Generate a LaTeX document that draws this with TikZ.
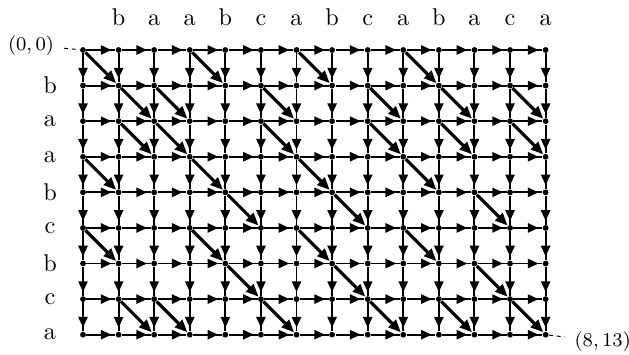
\documentclass[tikz,border=0pt]{standalone}
\usetikzlibrary{arrows.meta,positioning,decorations.markings}
\def\gs{0.516}
\def\wEdge{0.8pt}
\def\wMatch{1.3pt}
\tikzset{
  dot/.style={circle, fill=black, inner sep=0pt, minimum size=2.4pt},
  lbl/.style={font=\normalsize, inner sep=1pt},
  collbl/.style={lbl, anchor=base},
  endlbl/.style={font=\footnotesize, inner sep=1pt},
  move/.style={line width=\wEdge, postaction={decorate},
    decoration={markings, mark=at position 0.5 with
      {\pgftransformxshift{4.4pt}\arrow{Triangle[length=4.4pt,width=3.8pt]}}}},
  match/.style={line width=\wMatch, -{Triangle[length=5.2pt,width=4.2pt]}},
  lead/.style={line width=0.4pt, dash pattern=on 1.6pt off 1.6pt},
}

\begin{document}
\begin{tikzpicture}[x=1cm, y=1cm]
\useasboundingbox (-1.2035,0.725) rectangle (7.917,-4.4225);
% grid points of the edit graph
\foreach \i in {0,...,8}
  \foreach \j in {0,...,13}
    \node[dot] (v-\i-\j) at (\j*\gs, -\i*\gs) {};
% string labels
\foreach \c [count=\j] in {b,a,a,b,c,a,b,c,a,b,a,c,a}
  \node[collbl] (col-\j) at (\j*\gs, 0.35) {\c};
\foreach \r [count=\i] in {b,a,a,b,c,b,c,a}
  \node[lbl] (row-\i) at (-0.4785, -\i*\gs) {\r};
% horizontal and vertical moves
\foreach \i in {0,...,8}
  \foreach \j in {0,...,12} {
    \pgfmathtruncatemacro\jn{\j+1}
    \draw[move] (v-\i-\j) -- (v-\i-\jn);
  }
\foreach \j in {0,...,13}
  \foreach \i in {0,...,7} {
    \pgfmathtruncatemacro\in{\i+1}
    \draw[move] (v-\i-\j) -- (v-\in-\j);
  }
% diagonal moves where the letters match
\foreach \r [count=\i] in {b,a,a,b,c,b,c,a}
  \foreach \c [count=\j] in {b,a,a,b,c,a,b,c,a,b,a,c,a} {
    \pgfmathtruncatemacro\ip{\i-1}
    \pgfmathtruncatemacro\jp{\j-1}
    \ifx\r\c \draw[match] (v-\ip-\jp) -- (v-\i-\j); \fi
  }
% corner labels
\node[endlbl, left=0.33cm of v-0-0, yshift=0.07cm] (start) {$(0,0)$};
\node[endlbl, right=0.33cm of v-8-13, yshift=-0.1cm] (end) {$(8,13)$};
\draw[lead, shorten <=3pt] (start) -- (v-0-0);
\draw[lead, shorten >=3pt] (v-8-13) -- (end);
\end{tikzpicture}
\end{document}
